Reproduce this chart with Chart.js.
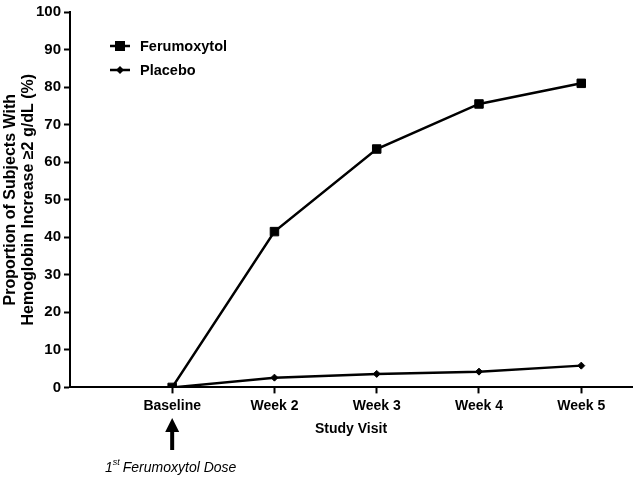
<!DOCTYPE html>
<html><head><meta charset="utf-8">
<script src="https://cdn.jsdelivr.net/npm/chart.js@4/dist/chart.umd.min.js"></script>
<style>html,body{margin:0;padding:0;background:#fff}#wrap{width:639px;height:478px}</style>
</head><body><div id="wrap"><canvas id="c" width="639" height="478"></canvas></div>
<script>
const categories = ['Baseline', 'Week 2', 'Week 3', 'Week 4', 'Week 5'];
const ferumoxytol = [0, 41.5, 63.5, 75.5, 81.0];
const placebo = [0, 2.6, 3.6, 4.2, 5.8];
const yTicks = [0, 10, 20, 30, 40, 50, 60, 70, 80, 90, 100];
const seriesNames = ['Ferumoxytol', 'Placebo'];

const FONT = 'Liberation Sans, Arial, sans-serif';

const legendPlugin = {
  id: 'customLegend',
  afterDraw(chart) {
    const ctx = chart.ctx;
    ctx.save();
    chart.data.datasets.forEach((ds, i) => {
      const y = 46 + i * 24;
      const x0 = 110, x1 = 130;
      ctx.strokeStyle = '#000'; ctx.lineWidth = 2.5;
      ctx.beginPath(); ctx.moveTo(x0, y); ctx.lineTo(x1, y); ctx.stroke();
      ctx.fillStyle = '#000';
      const cx = (x0 + x1) / 2;
      if (ds.pointStyle === 'rect') {
        ctx.fillRect(cx - 5, y - 5, 10, 10);
      } else {
        ctx.beginPath(); ctx.moveTo(cx, y - 4); ctx.lineTo(cx + 4, y); ctx.lineTo(cx, y + 4); ctx.lineTo(cx - 4, y); ctx.closePath(); ctx.fill();
      }
      ctx.font = 'bold 14.5px ' + FONT;
      ctx.textBaseline = 'middle'; ctx.textAlign = 'left';
      ctx.fillText(ds.label, 140, y + 1);
    });
    // arrow under Baseline
    const xs = chart.scales.x;
    const ax = xs.getPixelForValue(0);
    ctx.fillStyle = '#000'; ctx.strokeStyle = '#000';
    ctx.lineWidth = 4;
    ctx.beginPath(); ctx.moveTo(ax, 428); ctx.lineTo(ax, 450); ctx.stroke();
    ctx.beginPath(); ctx.moveTo(ax - 7, 432); ctx.lineTo(ax, 418); ctx.lineTo(ax + 7, 432); ctx.closePath(); ctx.fill();
    // annotation text
    ctx.font = 'italic 14px ' + FONT;
    ctx.textBaseline = 'alphabetic'; ctx.textAlign = 'left';
    let tx = 105;
    ctx.fillText('1', tx, 472);
    tx += ctx.measureText('1').width;
    ctx.font = 'italic 9px ' + FONT;
    ctx.fillText('st', tx, 465);
    tx += ctx.measureText('st').width + 3;
    ctx.font = 'italic 14px ' + FONT;
    ctx.fillText('Ferumoxytol Dose', tx, 472);
    ctx.restore();
  }
};

new Chart(document.getElementById('c'), {
  type: 'line',
  data: {
    datasets: [
      { label: seriesNames[0], data: ferumoxytol.map((v, i) => ({x: i, y: v})), borderColor: '#000', backgroundColor: '#000', borderWidth: 2.5, pointStyle: 'rect', pointRadius: 6, pointBorderWidth: 1, pointHoverRadius: 6, tension: 0 },
      { label: seriesNames[1], data: placebo.map((v, i) => ({x: i, y: v})), borderColor: '#000', backgroundColor: '#000', borderWidth: 2.5, pointStyle: 'rectRot', pointRadius: 3.5, pointBorderWidth: 1, pointHoverRadius: 3.5, tension: 0 }
    ]
  },
  options: {
    responsive: false,
    animation: false,
    layout: { padding: { left: 2, right: 0, top: 6, bottom: 40 } },
    plugins: { legend: { display: false }, tooltip: { enabled: false } },
    scales: {
      x: {
        type: 'linear', min: -0.999, max: 4.496,
        afterBuildTicks(s) { s.ticks = categories.map((_, i) => ({value: i})); },
        grid: { display: true, drawOnChartArea: false, drawTicks: true, tickLength: 6, tickColor: '#000', tickWidth: 2 },
        border: { color: '#000', width: 2 },
        ticks: { color: '#000', font: { family: FONT, size: 14, weight: 'bold' }, padding: 4, maxRotation: 0, autoSkip: false, callback: v => categories[v] },
        title: { display: true, text: 'Study Visit', color: '#000', font: { family: FONT, size: 14, weight: 'bold' }, padding: { top: 3, bottom: 0 } }
      },
      y: {
        min: 0, max: 100,
        afterBuildTicks(s) { s.ticks = yTicks.map(v => ({value: v})); },
        grid: { display: true, drawOnChartArea: false, drawTicks: true, tickLength: 6, tickColor: '#000', tickWidth: 2 },
        border: { color: '#000', width: 2 },
        ticks: { color: '#000', font: { family: FONT, size: 15, weight: 'bold' }, padding: 3 },
        title: { display: true, text: ['Proportion of Subjects With', 'Hemoglobin Increase \u22652 g/dL (%)'], color: '#000', font: { family: FONT, size: 16, weight: 'bold', lineHeight: 1.1 }, padding: { top: 0, bottom: 4 } },
        afterFit(s) { s.width = 68; }
      }
    }
  },
  plugins: [legendPlugin]
});
</script>
</body></html>
